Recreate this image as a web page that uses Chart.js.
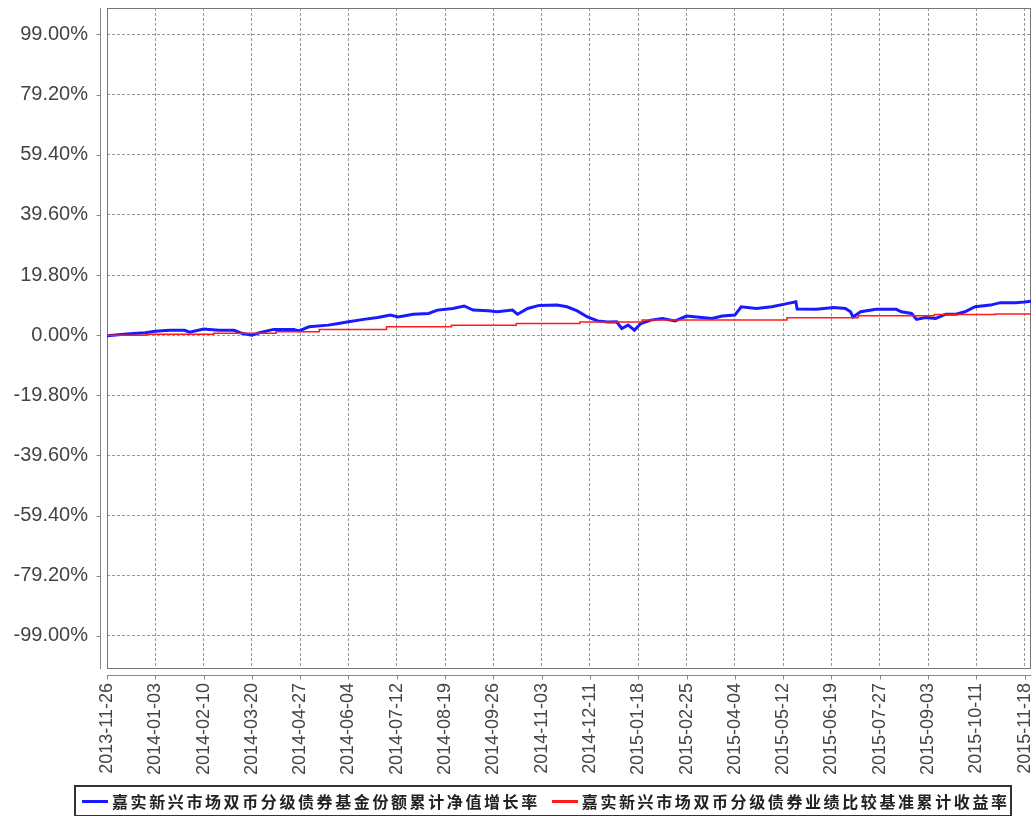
<!DOCTYPE html>
<html>
<head>
<meta charset="utf-8">
<script src="https://cdn.jsdelivr.net/npm/chart.js@4/dist/chart.umd.min.js"></script>
<style>
  html, body { margin: 0; padding: 0; background: #fff; }
  #wrap { position: relative; width: 1034px; height: 816px; overflow: hidden; }
  #c { position: absolute; left: 0; top: 0; }
  #legend { position: absolute; left: 74px; top: 785px; width: 934px; height: 28px; border: 2px solid #333;
    display: flex; align-items: center; font-family: "Noto Sans CJK SC", sans-serif; font-weight: bold;
    font-size: 16px; letter-spacing: 2.6px; color: #222; white-space: nowrap; box-sizing: content-box; }
  .sw { display: inline-block; width: 26px; height: 3px; margin: 0 4px 0 6px; }
  .item { display: flex; align-items: center; }
</style>
</head>
<body>
<div id="wrap">
  <canvas id="c" width="1034" height="816"></canvas>
  <div id="legend"></div>
</div>
<script>
const startDate = '2013-11-26';
const endDate = '2015-11-23';

const xTickLabels = ['2013-11-26','2014-01-03','2014-02-10','2014-03-20','2014-04-27','2014-06-04','2014-07-12',
  '2014-08-19','2014-09-26','2014-11-03','2014-12-11','2015-01-18','2015-02-25','2015-04-04','2015-05-12',
  '2015-06-19','2015-07-27','2015-09-03','2015-10-11','2015-11-18'];

const yTickValues = [-99, -79.2, -59.4, -39.6, -19.8, 0, 19.8, 39.6, 59.4, 79.2, 99];

const seriesNames = ['嘉实新兴市场双币分级债券基金份额累计净值增长率', '嘉实新兴市场双币分级债券业绩比较基准累计收益率'];

const navDates = ['2013-11-26','2013-12-14','2013-12-26','2014-01-03','2014-01-14','2014-01-26','2014-01-30',
  '2014-02-10','2014-02-22','2014-03-06','2014-03-12','2014-03-20','2014-03-26','2014-04-06','2014-04-22',
  '2014-04-26','2014-05-04','2014-05-19','2014-05-27','2014-06-04','2014-06-16','2014-06-27','2014-07-07',
  '2014-07-13','2014-07-25','2014-08-06','2014-08-13','2014-08-25','2014-09-03','2014-09-10','2014-09-22',
  '2014-09-29','2014-10-11','2014-10-15','2014-10-23','2014-11-01','2014-11-15','2014-11-23','2014-12-01',
  '2014-12-09','2014-12-17','2014-12-25','2015-01-01','2015-01-05','2015-01-10','2015-01-15','2015-01-20',
  '2015-01-28','2015-02-06','2015-02-16','2015-02-25','2015-03-09','2015-03-17','2015-03-25','2015-04-04',
  '2015-04-09','2015-04-21','2015-05-03','2015-05-14','2015-05-22','2015-05-23','2015-06-07','2015-06-21',
  '2015-06-30','2015-07-04','2015-07-06','2015-07-12','2015-07-24','2015-08-09','2015-08-13','2015-08-21',
  '2015-08-25','2015-09-01','2015-09-09','2015-09-17','2015-09-25','2015-10-02','2015-10-10','2015-10-22',
  '2015-10-30','2015-11-11','2015-11-18','2015-11-23'];
const navValues = [-0.2, 0.5, 0.8, 1.3, 1.6, 1.6, 1.0,
  2.0, 1.6, 1.6, 0.6, 0.0, 0.8, 1.9, 1.9,
  1.4, 2.75, 3.3, 3.85, 4.4, 5.2, 5.8, 6.6,
  6.0, 6.9, 7.15, 8.25, 8.8, 9.6, 8.25, 8.0,
  7.7, 8.25, 6.9, 8.8, 9.8, 9.9, 9.35, 8.0,
  6.0, 4.7, 4.3, 4.4, 2.2, 3.3, 1.65, 3.85,
  4.95, 5.5, 4.7, 6.3, 5.8, 5.5, 6.3, 6.6,
  9.35, 8.8, 9.35, 10.3, 11.0, 8.6, 8.5, 9.1,
  8.8, 7.7, 6.0, 7.7, 8.5, 8.5, 7.7, 7.15,
  5.2, 5.8, 5.5, 6.9, 6.9, 7.7, 9.35, 9.9,
  10.7, 10.7, 10.9, 11.2];

const benchDates = ['2013-11-26','2013-12-27','2014-02-18','2014-04-08','2014-05-12','2014-07-04','2014-08-24',
  '2014-10-14','2014-12-03','2015-01-21','2015-05-15','2015-07-10','2015-09-08','2015-10-26','2015-11-23'];
const benchValues = [0.0, 0.3, 0.6, 1.1, 1.9, 2.75, 3.3,
  3.85, 4.35, 4.95, 5.7, 6.4, 6.8, 7.0, 7.0];

function dayOffset(s) {
  return (Date.parse(s + 'T00:00:00Z') - Date.parse(startDate + 'T00:00:00Z')) / 86400000;
}

const colors = ['#1a1aff', '#ff1a1a'];

// HTML legend
const legendEl = document.getElementById('legend');
seriesNames.forEach((n, i) => {
  const it = document.createElement('span');
  it.className = 'item';
  it.style.marginRight = i === 0 ? '6px' : '0';
  const sw = document.createElement('span');
  sw.className = 'sw';
  sw.style.background = colors[i];
  const tx = document.createElement('span');
  tx.textContent = n;
  it.appendChild(sw); it.appendChild(tx);
  legendEl.appendChild(it);
});

const framePlugin = {
  id: 'frame',
  beforeDatasetsDraw(chart) {
    const { ctx, chartArea: a, scales } = chart;
    ctx.save();
    ctx.strokeStyle = '#777';
    ctx.lineWidth = 1;
    ctx.strokeRect(a.left + 0.5, a.top + 0.5, a.right - a.left - 1, a.bottom - a.top - 1);
    const yx = a.left - 6.5;
    ctx.strokeStyle = '#888';
    ctx.beginPath(); ctx.moveTo(yx, a.top); ctx.lineTo(yx, a.bottom); ctx.stroke();
    scales.y.ticks.forEach(t => {
      const py = Math.round(scales.y.getPixelForValue(t.value)) + 0.5;
      ctx.beginPath(); ctx.moveTo(yx - 4, py); ctx.lineTo(yx, py); ctx.stroke();
    });
    const xy = a.bottom + 6.5;
    ctx.beginPath(); ctx.moveTo(a.left, xy); ctx.lineTo(a.right, xy); ctx.stroke();
    scales.x.ticks.forEach(t => {
      const px = Math.round(scales.x.getPixelForValue(t.value)) + 0.5;
      ctx.beginPath(); ctx.moveTo(px, xy); ctx.lineTo(px, xy + 4); ctx.stroke();
    });
    ctx.restore();
  }
};

new Chart(document.getElementById('c'), {
  type: 'line',
  data: {
    datasets: [
      {
        label: seriesNames[0],
        data: navDates.map((d, i) => ({ x: dayOffset(d), y: navValues[i] })),
        borderColor: colors[0],
        borderWidth: 3,
        pointRadius: 0,
        tension: 0,
        order: 1
      },
      {
        label: seriesNames[1],
        data: benchDates.map((d, i) => ({ x: dayOffset(d), y: benchValues[i] })),
        borderColor: colors[1],
        borderWidth: 1.5,
        pointRadius: 0,
        stepped: true,
        order: 0
      }
    ]
  },
  options: {
    responsive: false,
    animation: false,
    layout: { padding: { top: 8, right: 3, left: 0, bottom: 0 } },
    plugins: { legend: { display: false }, tooltip: { enabled: false } },
    scales: {
      x: {
        type: 'linear',
        min: 0,
        max: dayOffset(endDate),
        afterBuildTicks: (s) => { s.ticks = xTickLabels.map(d => ({ value: dayOffset(d) })); },
        afterFit: (s) => { s.height = 147; s.paddingLeft = 0; s.paddingRight = 0; s.paddingTop = 0; s.paddingBottom = 0; },
        border: { display: false, dash: [3, 2] },
        grid: { color: '#999', lineWidth: 1, drawTicks: false },
        ticks: {
          autoSkip: false,
          minRotation: 90,
          maxRotation: 90,
          padding: 14,
          color: '#444',
          font: { family: 'Liberation Sans, Arial, sans-serif', size: 18 },
          callback: (v, i) => xTickLabels[i]
        }
      },
      y: {
        type: 'linear',
        min: -109.9,
        max: 107.7,
        afterBuildTicks: (s) => { s.ticks = yTickValues.map(v => ({ value: v })); },
        afterFit: (s) => { s.width = 107; s.paddingLeft = 0; s.paddingRight = 0; s.paddingTop = 0; s.paddingBottom = 0; },
        border: { display: false, dash: [3, 2] },
        grid: { color: '#999', lineWidth: 1, drawTicks: false },
        ticks: {
          padding: 19,
          color: '#444',
          font: { family: 'Liberation Sans, Arial, sans-serif', size: 20 },
          callback: (v) => v.toFixed(2) + '%'
        }
      }
    }
  },
  plugins: [framePlugin]
});
</script>
</body>
</html>
